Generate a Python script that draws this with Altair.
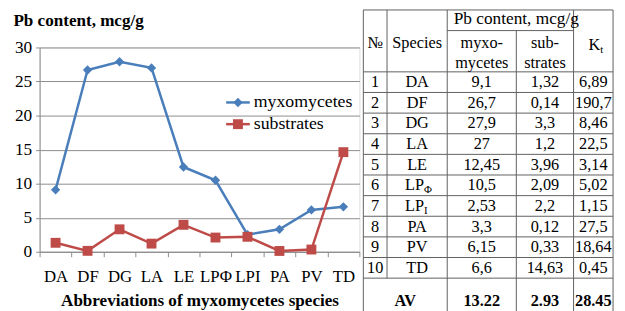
import altair as alt
import pandas as pd

# ---------------- data ----------------
species = ["DA", "DF", "DG", "LA", "LE", "LPΦ", "LPI", "PA", "PV", "TD"]
series_names = ["myxomycetes", "substrates"]
myxo = [9.1, 26.7, 27.9, 27, 12.45, 10.5, 2.53, 3.3, 6.15, 6.6]
subs = [1.32, 0.14, 3.3, 1.2, 3.96, 2.09, 2.2, 0.12, 0.33, 14.63]
kt = [6.89, 190.7, 8.46, 22.5, 3.14, 5.02, 1.15, 27.5, 18.64, 0.45]
av_label = "AV"
av_values = ["13.22", "2.93", "28.45"]
table_species_main = ["DA", "DF", "DG", "LA", "LE", "LP", "LP", "PA", "PV", "TD"]
table_species_sub = ["", "", "", "", "", "Φ", "I", "", "", ""]
y_ticks = [0, 5, 10, 15, 20, 25, 30]

# ---------------- style ----------------
FONT = "Liberation Serif"
GRID = "#8c8c8c"
TABLE_LINE = "#5f5f5f"
line_colors = ["#4A7EBB", "#BE4B48"]
marker_shapes = ["diamond", "square"]
marker_sizes = [90, 100]

# table layout (column edges in px-like units, rows in row units)
col_edges = [0, 24, 85, 155, 213, 253]
col_c = [(a + b) / 2 for a, b in zip(col_edges[:-1], col_edges[1:])]


def fmt(v):
    return str(v).replace(".", ",")


# ---------------- line chart ----------------
chart_df = pd.DataFrame({
    "species": species * 2,
    "value": myxo + subs,
    "series": [series_names[0]] * len(species) + [series_names[1]] * len(species),
})

x_enc = alt.X(
    "species:N", sort=species, title="Abbreviations of myxomycetes species",
    scale=alt.Scale(type="band", paddingInner=0, paddingOuter=0),
    axis=alt.Axis(labelAngle=0, labelFont=FONT, labelFontSize=17, labelColor="black",
                  labelPadding=12, tickBand="extent", tickSize=5, tickColor=GRID,
                  domainColor=GRID, grid=False, titleFont=FONT, titleFontSize=17.3,
                  titleFontWeight="bold", titleColor="black", titleY=49,
                  titleBaseline="middle"),
)
y_enc = alt.Y(
    "value:Q", title="Pb content, mcg/g",
    scale=alt.Scale(domain=[0, 30], nice=False),
    axis=alt.Axis(values=y_ticks, labelFont=FONT, labelFontSize=17.5, labelColor="black",
                  grid=True, gridColor=GRID, domainColor=GRID, tickColor=GRID,
                  tickSize=4, labelPadding=4, titleAngle=0, titleX=-27, titleY=-27,
                  titleAlign="left", titleBaseline="middle", titleFont=FONT,
                  titleFontSize=17.3, titleFontWeight="bold", titleColor="black"),
)

color_scale = alt.Scale(domain=series_names, range=line_colors)
shape_scale = alt.Scale(domain=series_names, range=marker_shapes)
size_scale = alt.Scale(domain=series_names, range=marker_sizes)

lines = alt.Chart(chart_df).mark_line(strokeWidth=2.5).encode(
    x=x_enc, y=y_enc,
    color=alt.Color("series:N", scale=color_scale, legend=None),
)
points = alt.Chart(chart_df).mark_point(filled=True, opacity=1).encode(
    x=x_enc, y=y_enc,
    color=alt.Color("series:N", scale=color_scale, legend=None),
    shape=alt.Shape("series:N", scale=shape_scale, legend=None),
    size=alt.Size("series:O", scale=size_scale, legend=None),
)
plot = alt.layer(lines, points)

# ---------------- legend (inside the plot) ----------------
leg_df = pd.DataFrame({"series": series_names})
lg_scale = alt.Scale(domain=[0, 1], range=[189, 213], nice=False, zero=False)
lg_y = alt.Y("series:N", sort=series_names,
             scale=alt.Scale(type="point", domain=series_names, range=[55.7, 77.7], padding=0),
             axis=None)
leg_line = alt.Chart(leg_df).mark_rule(strokeWidth=2.5).encode(
    x=alt.X(datum=0, scale=lg_scale, axis=None), x2=alt.X2(datum=1), y=lg_y,
    color=alt.Color("series:N", scale=color_scale, legend=None),
)
leg_pt = alt.Chart(leg_df).mark_point(filled=True, opacity=1).encode(
    x=alt.X(datum=0.5, scale=lg_scale, axis=None), y=lg_y,
    color=alt.Color("series:N", scale=color_scale, legend=None),
    shape=alt.Shape("series:N", scale=shape_scale, legend=None),
    size=alt.Size("series:O", scale=size_scale, legend=None),
)
leg_txt = alt.Chart(leg_df).mark_text(font=FONT, fontSize=18, color="black", align="left",
                                      baseline="middle", dx=4).encode(
    x=alt.X(datum=1, scale=lg_scale, axis=None), y=lg_y, text="series:N",
)
legend_block = alt.layer(leg_line, leg_pt, leg_txt)

# ---------------- table ----------------
rule_rows = []
for u in [0] + list(range(3, 14)):
    rule_rows.append({"x": col_edges[0], "x2": col_edges[-1], "y": u, "y2": u})
rule_rows.append({"x": col_edges[2], "x2": col_edges[4], "y": 1, "y2": 1})
for i, e in enumerate(col_edges):
    top = 1 if i == 3 else 0
    bottom = 13 if i == 1 else 15
    rule_rows.append({"x": e, "x2": e, "y": top, "y2": bottom})
rules_df = pd.DataFrame(rule_rows)

txt = []
txt += [
    {"x": col_c[0], "y": 1.62, "text": "№"},
    {"x": col_c[1], "y": 1.62, "text": "Species"},
    {"x": col_c[2], "y": 1.62, "text": "myxo-"},
    {"x": col_c[2], "y": 2.55, "text": "mycetes"},
    {"x": col_c[3], "y": 1.62, "text": "sub-"},
    {"x": col_c[3], "y": 2.55, "text": "strates"},
]
header_top = [{"x": col_edges[3], "y": 0.42, "text": "Pb content, mcg/g"}]
anchor = [{"x": col_c[4], "y": 1.68, "text": "K"}]
subtxt = [{"x": col_c[4], "y": 1.68, "text": "t"}]
for i in range(len(species)):
    u = 3.5 + i
    txt.append({"x": col_c[0], "y": u, "text": str(i + 1)})
    if table_species_sub[i]:
        anchor.append({"x": col_c[1], "y": u, "text": table_species_main[i]})
        subtxt.append({"x": col_c[1], "y": u, "text": table_species_sub[i]})
    else:
        txt.append({"x": col_c[1], "y": u, "text": table_species_main[i]})
    txt.append({"x": col_c[2], "y": u, "text": fmt(myxo[i])})
    txt.append({"x": col_c[3], "y": u, "text": fmt(subs[i])})
    txt.append({"x": col_c[4], "y": u, "text": fmt(kt[i])})
bold = [{"x": col_edges[2] / 2, "y": 14.1, "text": av_label}]
for j, v in enumerate(av_values):
    bold.append({"x": col_c[2 + j], "y": 14.1, "text": v})

tx = alt.X("x:Q", scale=alt.Scale(domain=[col_edges[0], col_edges[-1]], range=[328, 581], nice=False, zero=False), axis=None)
ty = alt.Y("y:Q", scale=alt.Scale(domain=[0, 15], range=[-38, 275.5], nice=False, zero=False), axis=None)

t_rules = alt.Chart(rules_df).mark_rule(color=TABLE_LINE, strokeWidth=1).encode(
    x=tx, x2="x2:Q", y=ty, y2="y2:Q")
t_text = alt.Chart(pd.DataFrame(txt)).mark_text(font=FONT, fontSize=16.5, color="black", baseline="middle", align="center").encode(
    x=tx, y=ty, text="text:N")
t_head = alt.Chart(pd.DataFrame(header_top)).mark_text(font=FONT, fontSize=17.5, color="black", baseline="middle", align="center").encode(
    x=tx, y=ty, text="text:N")
t_anchor = alt.Chart(pd.DataFrame(anchor)).mark_text(font=FONT, fontSize=16.5, color="black", baseline="middle", align="right", dx=7).encode(
    x=tx, y=ty, text="text:N")
t_sub = alt.Chart(pd.DataFrame(subtxt)).mark_text(font=FONT, fontSize=11, color="black", baseline="middle", align="left", dx=7, dy=5).encode(
    x=tx, y=ty, text="text:N")
t_bold = alt.Chart(pd.DataFrame(bold)).mark_text(font=FONT, fontSize=16.5, fontWeight="bold", color="black", baseline="middle", align="center").encode(
    x=tx, y=ty, text="text:N")
table = alt.layer(t_rules, t_text, t_head, t_anchor, t_sub, t_bold)

chart = alt.layer(plot, legend_block, table).resolve_scale(x="independent", y="independent").properties(
    width=324, height=207,
    autosize=alt.AutoSizeParams(type="none"),
    padding={"left": 32, "top": 38, "right": 261, "bottom": 58},
).configure_view(stroke=None).configure(background="white")

chart.save("out.html", embed_options={"renderer": "svg", "actions": False})
